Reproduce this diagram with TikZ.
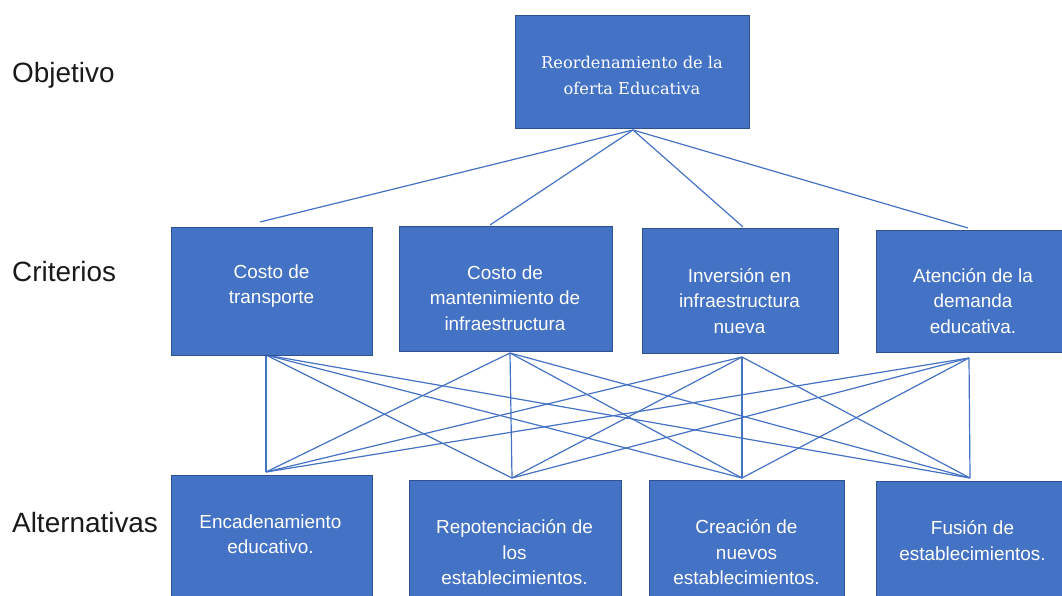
\documentclass[tikz,border=0pt]{standalone}
\usepackage{fontspec}
\setmainfont{Liberation Sans}
\newfontfamily\serifbox{DejaVu Serif}
\definecolor{boxfill}{HTML}{4472C4}
\definecolor{boxline}{HTML}{2F528F}
\definecolor{linkcol}{HTML}{4472C4}
\definecolor{labelcol}{HTML}{1A1A1A}
\tikzset{
  box/.style={draw=boxline, fill=boxfill, line width=0.9bp, inner sep=0pt},
  boxtext/.style={text=white, align=center, inner sep=0pt, font=\fontsize{19}{25.5}\selectfont},
  toptext/.style={text=white, align=center, inner sep=0pt, font=\serifbox\fontsize{16.3}{26}\selectfont},
  levellabel/.style={text=labelcol, anchor=base west, inner sep=0pt, font=\fontsize{28}{32}\selectfont},
  link/.style={draw=linkcol, line width=1.2bp}
}
\begin{document}
\begin{tikzpicture}[x=1bp, y=-1bp]
\useasboundingbox (0,0) rectangle (1062,596);
\clip (0,0) rectangle (1062,596);

% level labels
\node[levellabel] (lobj) at (12,83) {Objetivo};
\node[levellabel] (lcri) at (12,282) {Criterios};
\node[levellabel] (lalt) at (12,532) {Alternativas};

% connector end points
\coordinate (tb) at (633,130);
\coordinate (c1t) at (260,222);
\coordinate (c2t) at (490,225);
\coordinate (c3t) at (743,227);
\coordinate (c4t) at (968,228);
\coordinate (c1b) at (266,355);
\coordinate (c2b) at (510,353);
\coordinate (c3b) at (742,357);
\coordinate (c4b) at (969,358);
\coordinate (a1t) at (266,472);
\coordinate (a2t) at (512,478);
\coordinate (a3t) at (742,478);
\coordinate (a4t) at (970,478);

% connectors objective -> criteria
\foreach \c in {c1t,c2t,c3t,c4t} \draw[link] (tb) -- (\c);
% connectors criteria -> alternatives
\foreach \c in {c1b,c2b,c3b,c4b}
  \foreach \a in {a1t,a2t,a3t,a4t}
    \draw[link] (\c) -- (\a);

% objective
\node[box, minimum width=234bp, minimum height=113bp] (obj) at (632,71.5) {};
\node[toptext] (objl) at (632,75) {Reordenamiento de la\\oferta Educativa};

% criteria
\node[box, minimum width=201bp, minimum height=128bp] (c1) at (271.5,291) {};
\node[boxtext] (c1l) at (271.5,286) {Costo de\\transporte};
\node[box, minimum width=213bp, minimum height=125bp] (c2) at (505.5,288.5) {};
\node[boxtext] (c2l) at (505,298) {Costo de\\mantenimiento de\\infraestructura};
\node[box, minimum width=196bp, minimum height=125bp] (c3) at (740,290.5) {};
\node[boxtext] (c3l) at (739.5,301) {Inversión en\\infraestructura\\nueva};
\node[box, minimum width=194bp, minimum height=122bp] (c4) at (973,291) {};
\node[boxtext] (c4l) at (973,301) {Atención de la\\demanda\\educativa.};

% alternatives
\node[box, minimum width=201bp, minimum height=140bp] (a1) at (271.5,545) {};
\node[boxtext] (a1l) at (270.5,534.5) {Encadenamiento\\educativo.};
\node[box, minimum width=212bp, minimum height=140bp] (a2) at (515,550) {};
\node[boxtext] (a2l) at (514.5,552.5) {Repotenciación de\\los\\establecimientos.};
\node[box, minimum width=195bp, minimum height=140bp] (a3) at (746.5,550) {};
\node[boxtext] (a3l) at (746.5,552.5) {Creación de\\nuevos\\establecimientos.};
\node[box, minimum width=194bp, minimum height=140bp] (a4) at (973,551) {};
\node[boxtext] (a4l) at (972.5,540.5) {Fusión de\\establecimientos.};
\end{tikzpicture}
\end{document}
